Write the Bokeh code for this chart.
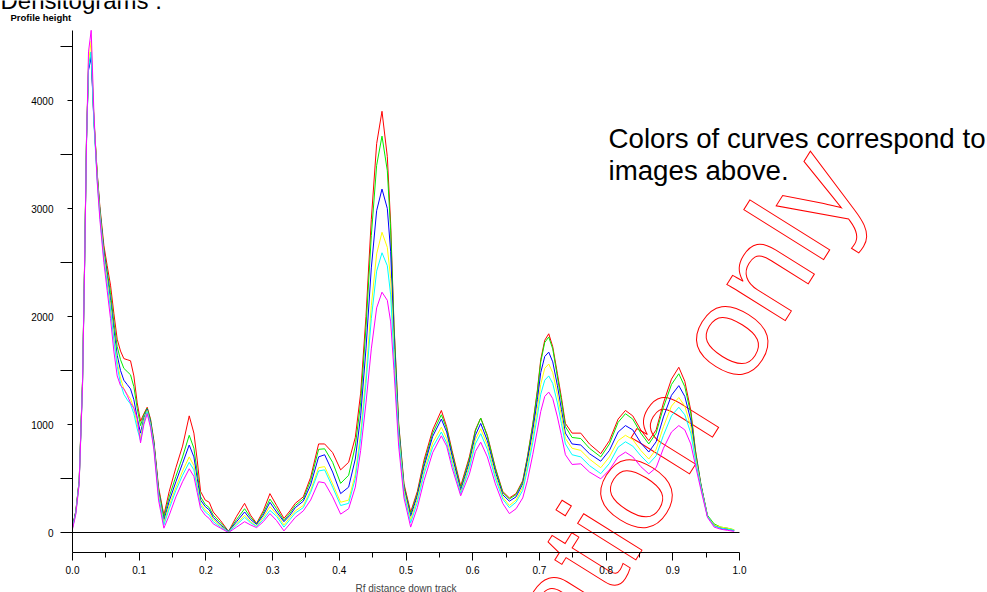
from bokeh.plotting import figure
from bokeh.models import Range1d, Label, FixedTicker, LinearAxis, PrintfTickFormatter
from bokeh.embed import file_html
from bokeh.resources import INLINE

rf = [0.000, 0.005, 0.010, 0.015, 0.018, 0.021, 0.024, 0.028, 0.032, 0.037,
      0.041, 0.047, 0.052, 0.057, 0.062, 0.067, 0.072, 0.077, 0.082, 0.087,
      0.092, 0.097, 0.102, 0.107, 0.112, 0.117, 0.122, 0.129, 0.137, 0.145,
      0.155, 0.165, 0.175, 0.182, 0.187, 0.192, 0.199, 0.205, 0.211, 0.222,
      0.234, 0.246, 0.258, 0.267, 0.276, 0.286, 0.296, 0.306, 0.317, 0.326,
      0.334, 0.346, 0.357, 0.369, 0.378, 0.390, 0.402, 0.414, 0.424, 0.432,
      0.440, 0.448, 0.456, 0.464, 0.472, 0.477, 0.482, 0.489, 0.497, 0.507,
      0.517, 0.527, 0.540, 0.553, 0.561, 0.569, 0.582, 0.595, 0.604, 0.612,
      0.622, 0.634, 0.645, 0.655, 0.665, 0.675, 0.682, 0.690, 0.697, 0.702,
      0.708, 0.714, 0.720, 0.727, 0.733, 0.739, 0.749, 0.762, 0.775, 0.792,
      0.805, 0.818, 0.829, 0.840, 0.852, 0.864, 0.875, 0.886, 0.898, 0.909,
      0.918, 0.927, 0.934, 0.942, 0.952, 0.962, 0.972, 0.982, 0.992]

red = [50, 200, 480, 1400, 2450, 3650, 4300, 4420, 3830, 3330,
       3020, 2660, 2470, 2290, 2030, 1790, 1680, 1610, 1600, 1590,
       1450, 1200, 1030, 1100, 1160, 1050, 850, 420, 160, 380,
       600, 800, 1080, 920, 670, 380, 300, 280, 190, 110,
       10, 150, 270, 160, 85, 200, 360, 250, 130, 200,
       270, 330, 510, 820, 820, 740, 580, 650, 880, 1290,
       2000, 2900, 3600, 3900, 3480, 2860, 1930, 1010, 450, 190,
       380, 670, 950, 1130, 980, 760, 430, 700, 950, 1060,
       900, 600, 380, 320, 360, 480, 700, 1000, 1320, 1600,
       1780, 1840, 1720, 1470, 1250, 1010, 920, 920, 820, 730,
       850, 1050, 1130, 1080, 950, 850, 950, 1200, 1420, 1530,
       1400, 1130, 760, 450, 150, 65, 40, 30, 20]

green = [50, 200, 480, 1400, 2450, 3650, 4300, 4450, 3850, 3330,
         3000, 2620, 2420, 2220, 1950, 1720, 1600, 1520, 1490, 1460,
         1350, 1150, 990, 1090, 1150, 1040, 840, 400, 140, 330,
         520, 700, 900, 780, 560, 330, 260, 230, 160, 90,
         10, 120, 220, 140, 80, 180, 310, 220, 110, 180,
         250, 310, 480, 770, 775, 650, 455, 530, 800, 1200,
         1900, 2750, 3400, 3670, 3350, 2800, 1900, 1000, 430, 170,
         360, 640, 920, 1090, 960, 740, 410, 680, 940, 1060,
         890, 590, 370, 310, 350, 470, 690, 990, 1300, 1580,
         1760, 1810, 1700, 1440, 1220, 980, 880, 870, 780, 700,
         820, 1020, 1100, 1050, 920, 820, 920, 1160, 1370, 1470,
         1350, 1100, 750, 450, 160, 80, 50, 40, 25]

blue = [50, 190, 470, 1380, 2430, 3630, 4280, 4400, 3820, 3300,
        2980, 2600, 2380, 2150, 1880, 1640, 1500, 1410, 1370, 1330,
        1230, 1060, 920, 1060, 1140, 1020, 820, 380, 110, 290,
        470, 640, 810, 700, 500, 300, 240, 210, 140, 70,
        10, 100, 190, 120, 75, 160, 280, 190, 100, 160,
        230, 290, 440, 700, 720, 560, 360, 420, 680, 1080,
        1700, 2450, 2980, 3180, 3000, 2600, 1800, 960, 410, 150,
        340, 610, 890, 1050, 930, 710, 390, 650, 900, 1010,
        850, 560, 350, 290, 330, 450, 660, 940, 1230, 1480,
        1630, 1670, 1580, 1360, 1140, 920, 820, 810, 730, 660,
        760, 930, 990, 950, 830, 745, 840, 1070, 1270, 1360,
        1260, 1040, 720, 440, 150, 70, 40, 30, 20]

yellow = [40, 180, 460, 1370, 2420, 3620, 4350, 4550, 3850, 3290,
          2960, 2570, 2340, 2100, 1820, 1580, 1430, 1330, 1280, 1240,
          1150, 1000, 880, 1040, 1130, 1000, 800, 360, 90, 250,
          420, 570, 700, 620, 440, 270, 210, 180, 120, 60,
          5, 80, 160, 100, 60, 140, 240, 170, 70, 140,
          200, 250, 390, 600, 610, 450, 280, 300, 540, 920,
          1450, 2100, 2580, 2780, 2640, 2350, 1700, 920, 390, 120,
          310, 570, 830, 975, 870, 670, 370, 620, 860, 960,
          810, 530, 330, 250, 300, 420, 620, 880, 1150, 1370,
          1520, 1560, 1480, 1280, 1080, 870, 780, 760, 680, 600,
          700, 850, 900, 860, 760, 680, 770, 980, 1170, 1250,
          1170, 980, 700, 430, 150, 70, 50, 40, 25]

cyan = [40, 180, 460, 1360, 2410, 3610, 4300, 4450, 3800, 3260,
        2930, 2540, 2300, 2060, 1780, 1540, 1380, 1280, 1230, 1190,
        1100, 960, 850, 1020, 1120, 990, 790, 340, 70, 220,
        390, 530, 650, 580, 410, 250, 190, 160, 100, 50,
        5, 70, 140, 90, 55, 120, 205, 150, 50, 120,
        180, 230, 370, 570, 580, 420, 250, 270, 500, 870,
        1380, 1980, 2420, 2590, 2470, 2200, 1620, 880, 360, 90,
        280, 540, 790, 930, 830, 640, 360, 590, 820, 915,
        770, 500, 310, 230, 280, 390, 580, 830, 1080, 1280,
        1410, 1450, 1380, 1200, 1010, 820, 720, 700, 620, 545,
        640, 790, 840, 800, 710, 636, 710, 900, 1080, 1160,
        1090, 920, 670, 420, 150, 60, 40, 30, 20]

magenta = [30, 170, 450, 1350, 2400, 3600, 4450, 4650, 3900, 3250,
           2900, 2500, 2240, 1980, 1680, 1450, 1360, 1330, 1270, 1200,
           1150, 1060, 830, 1000, 1100, 970, 770, 300, 40, 160,
           330, 470, 590, 520, 370, 220, 160, 130, 80, 40,
           0, 50, 100, 70, 45, 100, 175, 110, 15, 80,
           140, 200, 300, 470, 460, 330, 170, 220, 420, 760,
           1200, 1700, 2080, 2225, 2150, 1950, 1500, 800, 320, 50,
           230, 480, 740, 895, 800, 600, 340, 540, 750, 836,
           700, 450, 270, 175, 220, 320, 480, 720, 950, 1120,
           1260, 1300, 1240, 1070, 900, 720, 630, 636, 560, 497,
           580, 700, 744, 700, 610, 543, 600, 780, 930, 990,
           950, 820, 620, 400, 140, 50, 30, 20, 10]

series = [("#ff0000", red), ("#00ee00", green), ("#0000ff", blue),
          ("#ffff00", yellow), ("#00ffff", cyan), ("#ff00ff", magenta)]

x_ticks = [0.0, 0.1, 0.2, 0.3, 0.4, 0.5, 0.6, 0.7, 0.8, 0.9, 1.0]
x_minor = [0.05, 0.15, 0.25, 0.35, 0.45, 0.55, 0.65, 0.75, 0.85, 0.95]
y_ticks = [0, 1000, 2000, 3000, 4000]
y_minor = [500, 1500, 2500, 3500, 4500]
x_bounds = (0.0, 1.0)
y_bounds = (-185, 4648)

W, H = 987, 592
# frame covers the whole canvas; axes are pinned inside it
PX_PER_X = 667.0      # pixels per 1.0 Rf
PX_PER_Y = 0.108      # pixels per unit height
X0_PX, Y0_PX = 72, 532
p = figure(width=W, height=H, output_backend="svg", toolbar_location=None,
           x_range=Range1d(-X0_PX / PX_PER_X, (W - X0_PX) / PX_PER_X),
           y_range=Range1d(-(H - Y0_PX) / PX_PER_Y, Y0_PX / PX_PER_Y),
           x_axis_location=None, y_axis_location=None,
           min_border=0, min_border_left=0, min_border_right=0,
           min_border_top=0, min_border_bottom=0)
p.background_fill_color = "white"
p.border_fill_color = "white"
p.outline_line_color = None
p.grid.visible = False


def sy(baseline_px, font_px):
    # screen y (from bottom) for a text whose baseline should sit at image row baseline_px
    return H - (baseline_px - 0.37 * font_px)


# watermark (below curves, white fill on white background, red outline)
p.add_layout(Label(x=830, y=H - 163, x_units="screen", y_units="screen",
                   text="For illustration only", text_font="Liberation Sans",
                   text_font_size="130px", text_color="white",
                   text_outline_color="#ff0000", angle=58, angle_units="deg",
                   text_align="right", text_baseline="alphabetic",
                   level="underlay"))

for color, vals in series:
    p.line(rf, vals, line_color=color, line_width=1)

# zero reference line
p.line([-0.018, x_bounds[1]], [0, 0], line_color="black", line_width=1)

xa = LinearAxis(fixed_location=y_bounds[0], bounds=x_bounds)
xa.ticker = FixedTicker(ticks=x_ticks, minor_ticks=x_minor)
xa.formatter = PrintfTickFormatter(format="%.1f")
xa.major_tick_out = 8
xa.major_tick_in = 0
xa.minor_tick_out = 5
xa.minor_tick_in = 0
xa.major_label_standoff = 6
xa.major_label_text_font = "Liberation Sans"
xa.major_label_text_font_size = "10px"
xa.major_label_text_color = "black"
xa.axis_label = "Rf distance down track"
xa.axis_label_text_font = "Liberation Sans"
xa.axis_label_text_font_size = "10px"
xa.axis_label_text_font_style = "normal"
xa.axis_label_standoff = 5
xa.axis_line_color = "black"
p.add_layout(xa, "below")

ya = LinearAxis(fixed_location=x_bounds[0], bounds=y_bounds)
ya.ticker = FixedTicker(ticks=y_ticks, minor_ticks=y_minor)
ya.major_tick_out = 5
ya.major_tick_in = 0
ya.minor_tick_out = 12
ya.minor_tick_in = 0
ya.major_label_standoff = 7
ya.major_label_text_font = "Liberation Sans"
ya.major_label_text_font_size = "10px"
ya.major_label_text_color = "black"
ya.axis_line_color = "black"
p.add_layout(ya, "left")

# texts
p.add_layout(Label(x=0, y=sy(9, 24), x_units="screen", y_units="screen",
                   text="Densitograms :", text_font="Liberation Sans",
                   text_font_size="24px", text_color="black",
                   text_baseline="alphabetic"))
p.add_layout(Label(x=10, y=sy(21, 9.5), x_units="screen", y_units="screen",
                   text="Profile height", text_font="Liberation Sans",
                   text_font_size="9.5px", text_font_style="bold",
                   text_color="black", text_baseline="alphabetic"))
p.add_layout(Label(x=608, y=sy(148, 27.7), x_units="screen", y_units="screen",
                   text="Colors of curves correspond to", text_font="Liberation Sans",
                   text_font_size="27.7px", text_color="black",
                   text_baseline="alphabetic"))
p.add_layout(Label(x=608, y=sy(180, 27.7), x_units="screen", y_units="screen",
                   text="images above.", text_font="Liberation Sans",
                   text_font_size="27.7px", text_color="black",
                   text_baseline="alphabetic"))

open("out.html", "w").write(file_html(p, INLINE))
